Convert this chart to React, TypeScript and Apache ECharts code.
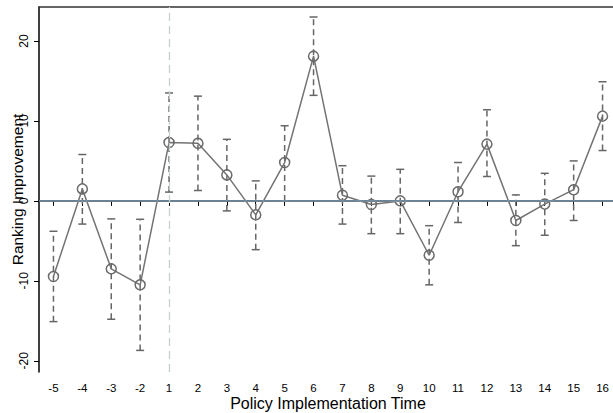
import React, { useEffect, useRef } from "react";
import * as echarts from "echarts";

const categories = ["-5", "-4", "-3", "-2", "1", "2", "3", "4", "5", "6", "7", "8", "9", "10", "11", "12", "13", "14", "15", "16"];
const estimates = [-9.45, 1.5, -8.5, -10.5, 7.3, 7.2, 3.25, -1.75, 4.8, 18.1, 0.7, -0.45, 0, -6.8, 1.15, 7.1, -2.45, -0.4, 1.4, 10.6];
const upper = [-3.8, 5.8, -2.25, -2.3, 13.5, 13.1, 7.7, 2.5, 9.4, 23.0, 4.4, 3.1, 3.95, -3.1, 4.8, 11.4, 0.75, 3.45, 5.0, 14.9];
const lower = [-15.1, -2.9, -14.8, -18.7, 1.1, 1.3, -1.25, -6.1, 0.0, 13.2, -2.9, -4.1, -4.1, -10.5, -2.7, 3.05, -5.6, -4.3, -2.45, 6.3];
const yTicks = [-20, -10, 0, 10, 20];
const policyStart = "1";

const FONT = "Liberation Sans, Arial, sans-serif";

export default function App() {
  const ref = useRef<HTMLDivElement>(null);
  useEffect(() => {
    if (!ref.current) return;
    const chart = echarts.init(ref.current, undefined, { renderer: "svg" });
    const errData = categories.map((_, i) => [i, lower[i], upper[i]]);
    chart.setOption({
      animation: false,
      backgroundColor: "#ffffff",
      grid: { left: 39, top: 7, width: 578, height: 365, containLabel: false, outerBoundsMode: "none" },
      xAxis: [
        {
          type: "category",
          data: categories,
          boundaryGap: true,
          axisLine: { show: true, lineStyle: { color: "#000", width: 1.5 } },
          axisTick: { show: true, alignWithLabel: true, length: 5, lineStyle: { color: "#000", width: 1 } },
          axisLabel: { color: "#000", fontSize: 11.5, fontFamily: FONT, margin: 10, interval: 0 },
          splitLine: { show: false },
          name: "Policy Implementation Time",
          nameLocation: "middle",
          nameGap: 23,
          nameMoveOverlap: false,
          nameTextStyle: { color: "#000", fontSize: 16, fontFamily: FONT },
        },
        {
          type: "category",
          data: categories,
          position: "top",
          boundaryGap: true,
          axisLine: { show: true, lineStyle: { color: "#333", width: 1.5 } },
          axisTick: { show: false },
          axisLabel: { show: false },
          splitLine: { show: false },
        },
      ],
      yAxis: {
        type: "value",
        min: -21.4,
        max: 24.25,
        axisLine: { show: true, lineStyle: { color: "#000", width: 1.5 } },
        axisTick: { show: true, length: 5, customValues: yTicks, lineStyle: { color: "#000", width: 1 } },
        axisLabel: { color: "#000", fontSize: 12, fontFamily: FONT, rotate: 90, margin: 9, customValues: yTicks },
        splitLine: { show: false },
        name: "Ranking Improvement",
        nameLocation: "middle",
        nameRotate: 90,
        nameGap: 14,
        nameMoveOverlap: false,
        nameTextStyle: { color: "#000", fontSize: 15.5, fontFamily: FONT },
      },
      series: [
        {
          type: "custom",
          data: errData,
          z: 2,
          renderItem: (params: any, api: any) => {
            const x = api.value(0);
            const lo = api.coord([x, api.value(1)]);
            const hi = api.coord([x, api.value(2)]);
            const cap = 4;
            const dark = "#666666";
            return {
              type: "group",
              children: [
                {
                  type: "line",
                  shape: { x1: lo[0], y1: lo[1], x2: hi[0], y2: hi[1] },
                  style: { stroke: dark, lineWidth: 1.5, lineDash: [6, 4] },
                },
                {
                  type: "line",
                  shape: { x1: lo[0] - cap, y1: lo[1], x2: lo[0] + cap, y2: lo[1] },
                  style: { stroke: dark, lineWidth: 1.5 },
                },
                {
                  type: "line",
                  shape: { x1: hi[0] - cap, y1: hi[1], x2: hi[0] + cap, y2: hi[1] },
                  style: { stroke: dark, lineWidth: 1.5 },
                },
              ],
            };
          },
        },
        {
          type: "line",
          data: estimates,
          z: 3,
          symbol: "circle",
          symbolSize: 10,
          lineStyle: { color: "#737373", width: 1.5 },
          itemStyle: { color: "rgba(255,255,255,0)", borderColor: "#6a6a6a", borderWidth: 1.5 },
          markLine: {
            silent: true,
            symbol: "none",
            label: { show: false },
            data: [
              { yAxis: 0, lineStyle: { color: "#7d98ae", width: 1.5, type: "solid" } },
              { xAxis: policyStart, lineStyle: { color: "#c5d1ce", width: 1.3, type: [8, 5] } },
            ],
          },
        },
      ],
    });
    return () => chart.dispose();
  }, []);
  return (
    <div
      ref={ref}
      style={{ position: "fixed", left: 0, top: 0, width: 613, height: 413, background: "#fff" }}
    />
  );
}
